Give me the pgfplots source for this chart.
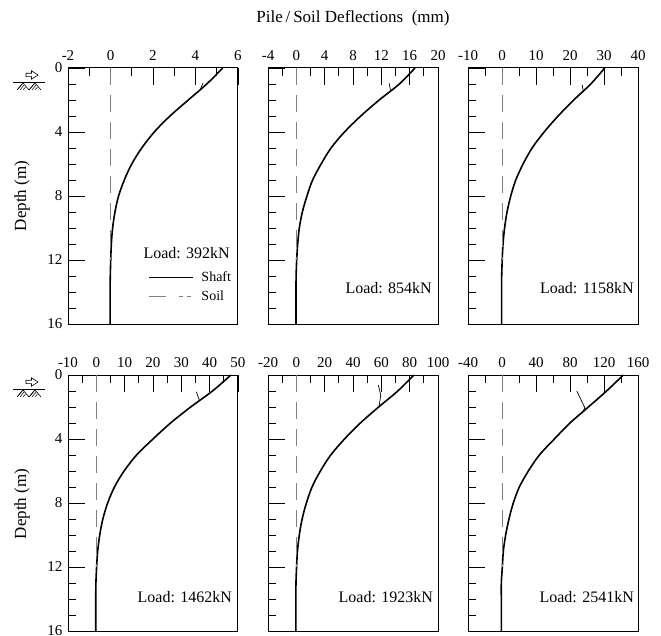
\documentclass[border=0pt]{standalone}
\usepackage{fontspec}
\setmainfont{Liberation Serif}
\usepackage{pgfplots}
\pgfplotsset{compat=1.18}

\pgfplotsset{
  panel/.style={
    scale only axis, width=170pt, height=256pt, anchor=north west,
    y dir=reverse, ymin=0, ymax=16,
    ytick={0,4,8,12,16},
    minor ytick={1,2,3,5,6,7,9,10,11,13,14,15},
    tick align=inside,
    xtick pos=upper, xticklabel pos=upper, ytick pos=left,
    major tick length=17pt, minor tick length=8pt,
    tick style={black, line width=0.9pt},
    axis line style={line width=1pt},
    tick label style={font=\fontsize{15}{17}\selectfont},
    xticklabel style={yshift=4pt},
    yticklabel style={xshift=-2pt},
    /pgf/number format/assume math mode=true,
    clip=false,
  },
  noylabels/.style={yticklabels={}},
}
\tikzset{
  shaft/.style={black, line width=1.6pt, smooth, tension=0.55},
  soil/.style={gray, line width=0.8pt, dash pattern=on 17pt off 10pt},
  hook/.style={black, line width=0.7pt},
  loadtxt/.style={anchor=east, inner sep=0pt, font=\fontsize{16}{18}\selectfont},
}

\begin{document}
\begin{tikzpicture}[x=1pt,y=1pt]
\useasboundingbox (0,0) rectangle (661,635);

% title and y labels
\node[font=\fontsize{17}{19}\selectfont] at (353,617) {Pile\,/\,Soil Deflections\ \ (mm)};
\node[font=\fontsize{17}{19}\selectfont, rotate=90] at (22,439) {Depth (m)};
\node[font=\fontsize{17}{19}\selectfont, rotate=90] at (22,131) {Depth (m)};

% soil-surface symbols
\foreach \dy in {0,-307}{
  \begin{scope}[yshift=\dy]
    \draw[line width=0.8pt] (13,553) -- (45,553);
    \draw[line width=0.6pt] (26,558.3) -- (31.5,558.3) -- (31.5,555.8) -- (38,560) -- (31.5,564.2) -- (31.5,561.7) -- (26,561.7) -- cycle;
    \foreach \cx in {23,35}{
      \draw[line width=0.6pt] (\cx-6,545) -- (\cx,552) -- (\cx+6,545);
      \draw[line width=0.5pt] (\cx-3,545) -- (\cx+1,550);
      \draw[line width=0.5pt] (\cx,545) -- (\cx+2.5,548);
      \draw[line width=0.5pt] (\cx-1,551) -- (\cx-5,546);
    }
  \end{scope}
}

% ---------- Panel 1 ----------
\begin{axis}[panel, at={(68pt,567pt)}, xmin=-2, xmax=6, xtick={-2,0,...,6}, minor xtick={-1,1,3,5},
  legend style={at={(axis cs:1.76,12.6)}, anchor=north west, draw=none, fill=none,
    font=\fontsize{14}{16}\selectfont, row sep=4pt, column sep=6pt, inner sep=0pt, cells={anchor=west}}]
\addplot[shaft, no markers, legend image code/.code={\draw[black,line width=1.4pt] (0pt,0pt) -- (44pt,0pt);}] coordinates {
 (5.28,0) (4.53,1) (3.66,2) (2.80,3) (2.06,4) (1.47,5) (1.00,6) (0.65,7) (0.38,8)
 (0.21,9) (0.10,10) (0.04,11) (0.01,12) (-0.01,13) (-0.02,14) (-0.02,15) (-0.02,16)};
\addlegendentry{Shaft}
\addplot[soil, no markers, legend image code/.code={\draw[gray,line width=0.8pt] (0pt,0pt) -- (26pt,0pt); \draw[gray,line width=0.8pt,dash pattern=on 4pt off 4pt] (30pt,0pt) -- (44pt,0pt);}] coordinates {(0,0) (0,12)};
\addlegendentry{Soil}
\addplot[hook, no markers, forget plot] coordinates {(4.35,0.95) (4.22,1.35)};
\node[loadtxt] at (axis cs:5.62,11.56) {Load: 392kN};
\end{axis}

% ---------- Panel 2 ----------
\begin{axis}[panel, noylabels, at={(268pt,567pt)}, xmin=-4, xmax=20, xtick={-4,0,...,20}, minor xtick={-2,2,...,18}]
\addplot[shaft, no markers] coordinates {
 (16.75,0) (14.54,1) (11.7,2) (9.1,3) (6.8,4) (4.9,5) (3.5,6) (2.3,7) (1.5,8)
 (0.85,9) (0.42,10) (0.19,11) (0.05,12) (-0.03,13) (-0.05,14) (-0.05,15) (-0.05,16)};
\addplot[soil, no markers] coordinates {(0,0) (0,12)};
\addplot[hook, no markers] coordinates {(13.1,0.95) (13.3,1.4)};
\node[loadtxt] at (axis cs:19.15,13.75) {Load: 854kN};
\end{axis}

% ---------- Panel 3 ----------
\begin{axis}[panel, noylabels, at={(468pt,567pt)}, xmin=-10, xmax=40, xtick={-10,0,...,40}, minor xtick={-5,5,...,35}]
\addplot[shaft, no markers] coordinates {
 (30.2,0) (26.1,1) (21.1,2) (16.5,3) (12.4,4) (8.85,5) (6.2,6) (4.05,7) (2.57,8)
 (1.48,9) (0.76,10) (0.30,11) (0.06,12) (-0.09,13) (-0.12,14) (-0.12,15) (-0.12,16)};
\addplot[soil, no markers] coordinates {(0,0) (0,12)};
\addplot[hook, no markers] coordinates {(23.6,1.05) (23.9,1.45)};
\node[loadtxt] at (axis cs:38.8,13.75) {Load: 1158kN};
\end{axis}

% ---------- Panel 4 ----------
\begin{axis}[panel, at={(68pt,260pt)}, xmin=-10, xmax=50, xtick={-10,0,...,50}, minor xtick={-5,5,...,45}]
\addplot[shaft, no markers] coordinates {
 (47.5,0) (41.0,1) (33.3,2) (26.2,3) (20.0,4) (14.2,5) (9.8,6) (6.4,7) (4.0,8)
 (2.3,9) (1.2,10) (0.48,11) (0.1,12) (-0.15,13) (-0.2,14) (-0.2,15) (-0.2,16)};
\addplot[soil, no markers] coordinates {(0,0) (0,12)};
\addplot[hook, no markers] coordinates {(35.3,1.05) (36.4,1.6)};
\node[loadtxt] at (axis cs:47.9,13.9) {Load: 1462kN};
\end{axis}

% ---------- Panel 5 ----------
\begin{axis}[panel, noylabels, at={(268pt,260pt)}, xmin=-20, xmax=100, xtick={-20,0,...,100}, minor xtick={-10,10,...,90}]
\addplot[shaft, no markers] coordinates {
 (83,0) (71.6,1) (58.1,2) (45.2,3) (34.0,4) (24.3,5) (17.0,6) (11.1,7) (7.1,8)
 (4.1,9) (2.1,10) (0.8,11) (0.17,12) (-0.25,13) (-0.3,14) (-0.3,15) (-0.3,16)};
\addplot[soil, no markers] coordinates {(0,0) (0,12)};
\addplot[hook, no markers] coordinates {(57.9,0.63) (59.6,1.25) (58.4,1.95)};
\node[loadtxt] at (axis cs:96.5,13.9) {Load: 1923kN};
\end{axis}

% ---------- Panel 6 ----------
\begin{axis}[panel, noylabels, at={(468pt,260pt)}, xmin=-40, xmax=160, xtick={-40,0,...,160}, minor xtick={-20,20,...,140}]
\addplot[shaft, no markers] coordinates {
 (142.7,0) (123,1) (101.6,2) (80,3) (61.6,4) (44,5) (31,6) (20.4,7) (13.3,8)
 (8.2,9) (4.3,10) (1.6,11) (0.4,12) (-0.8,13) (-0.8,14) (-0.8,15) (-0.8,16)};
\addplot[soil, no markers] coordinates {(0,0) (0,12)};
\addplot[hook, no markers] coordinates {(88,1.0) (97.5,2.05) (94,2.4)};
\node[loadtxt] at (axis cs:155.3,13.9) {Load: 2541kN};
\end{axis}
\end{tikzpicture}
\end{document}
